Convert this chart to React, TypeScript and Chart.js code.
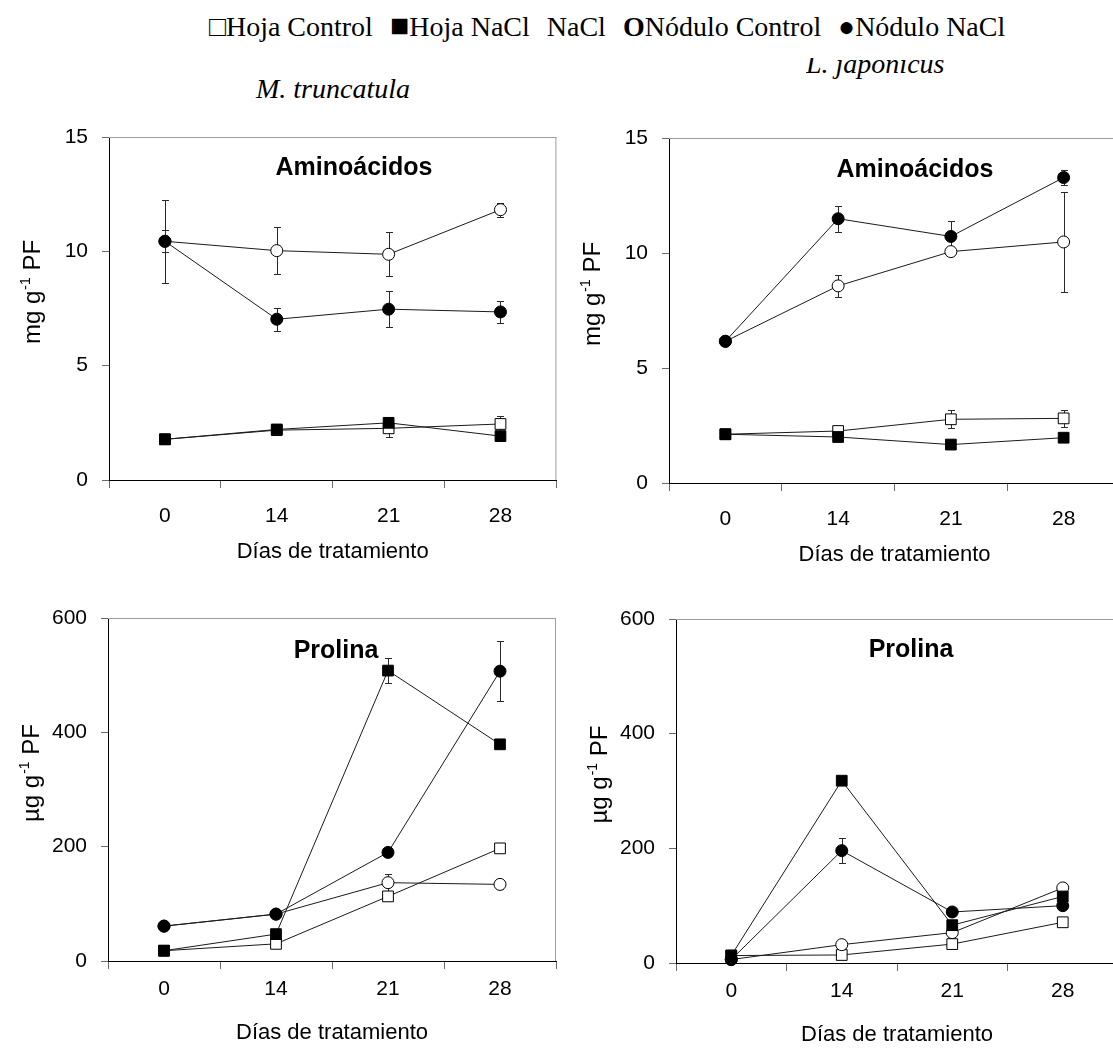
import React, { useEffect, useRef } from 'react';
import { Chart, registerables } from 'chart.js';

Chart.register(...registerables);

const SANS = '"Liberation Sans", Arial, Helvetica, sans-serif';
const SERIF = '"Liberation Serif", "Times New Roman", serif';

// Días de tratamiento
const dias = ['0', '14', '21', '28'];

// M. truncatula — aminoácidos (mg g-1 PF)
const mtAaHojaControl = [1.78, 2.18, 2.26, 2.45];
const mtAaHojaControlErr = [0, 0, 0.4, 0.34];
const mtAaHojaNaCl = [1.78, 2.21, 2.5, 1.92];
const mtAaHojaNaClErr = [0, 0, 0, 0];
const mtAaNodControl = [10.44, 10.03, 9.87, 11.82];
const mtAaNodControlErr = [1.82, 1.03, 0.97, 0.31];
const mtAaNodNaCl = [10.44, 7.03, 7.47, 7.35];
const mtAaNodNaClErr = [0.48, 0.5, 0.78, 0.48];

// L. japonicus — aminoácidos (mg g-1 PF)
const ljAaHojaControl = [2.12, 2.26, 2.77, 2.81];
const ljAaHojaControlErr = [0, 0, 0.4, 0.36];
const ljAaHojaNaCl = [2.12, 2.0, 1.67, 1.97];
const ljAaHojaNaClErr = [0, 0, 0, 0];
const ljAaNodControl = [6.16, 8.57, 10.06, 10.48];
const ljAaNodControlErr = [0, 0.47, 0, 2.17];
const ljAaNodNaCl = [6.16, 11.49, 10.72, 13.28];
const ljAaNodNaClErr = [0, 0.56, 0.65, 0.31];

// M. truncatula — prolina (µg g-1 PF)
const mtProHojaControl = [18, 30, 113, 197];
const mtProHojaControlErr = [0, 0, 0, 0];
const mtProHojaNaCl = [18, 47, 508, 379];
const mtProHojaNaClErr = [0, 0, 22, 0];
const mtProNodControl = [61, 82, 137, 134];
const mtProNodControlErr = [0, 0, 16, 8];
const mtProNodNaCl = [61, 82, 190, 507];
const mtProNodNaClErr = [0, 0, 0, 52];

// L. japonicus — prolina (µg g-1 PF)
const ljProHojaControl = [13, 14, 33, 71];
const ljProHojaControlErr = [0, 0, 0, 0];
const ljProHojaNaCl = [13, 318, 66, 116];
const ljProHojaNaClErr = [0, 0, 0, 0];
const ljProNodControl = [6, 32, 53, 131];
const ljProNodControlErr = [0, 0, 0, 8];
const ljProNodNaCl = [6, 196, 89, 100];
const ljProNodNaClErr = [0, 22, 0, 0];

const aaTicks = { max: 15, step: 5 };
const proTicks = { max: 600, step: 200 };

type Box = { x: number; y: number; w: number; h: number };
type Area = { l: number; t: number; r: number; b: number };

type PanelDef = {
  box: Box;
  area: Area;
  scale: { max: number; step: number };
  label: string;
  labelX: number;
  labelY: number;
  unit: string;
  frameRight: boolean;
  tickPad: number;
  sets: number[][];
};

const LINE = '#1a1a1a';

function buildDatasets(sets: number[][]) {
  const [hc, hcE, hn, hnE, nc, ncE, nn, nnE] = sets;
  const base = {
    borderColor: LINE,
    borderWidth: 1,
    pointBorderColor: '#000',
    pointBorderWidth: 1,
    clip: false as const,
  };
  // the NaCl series come first so that they sit on top of the controls
  return [
    { ...base, label: 'Nódulo NaCl', data: nn, errors: nnE, pointStyle: 'circle', pointRadius: 6, pointBackgroundColor: '#000' },
    { ...base, label: 'Hoja NaCl', data: hn, errors: hnE, pointStyle: 'rect', pointRadius: 7.6, pointBackgroundColor: '#000' },
    { ...base, label: 'Nódulo Control', data: nc, errors: ncE, pointStyle: 'circle', pointRadius: 6, pointBackgroundColor: '#fff' },
    { ...base, label: 'Hoja Control', data: hc, errors: hcE, pointStyle: 'rect', pointRadius: 7.6, pointBackgroundColor: '#fff' },
  ];
}

const panelDecor = {
  id: 'panelDecor',
  beforeDatasetsDraw(chart: any) {
    const ctx = chart.ctx as CanvasRenderingContext2D;
    const ys = chart.scales.y;
    ctx.save();
    ctx.strokeStyle = '#2a2a2a';
    ctx.lineWidth = 1;
    chart.data.datasets.forEach((ds: any, i: number) => {
      const meta = chart.getDatasetMeta(i);
      meta.data.forEach((pt: any, j: number) => {
        const e = ds.errors ? ds.errors[j] : 0;
        if (!e) return;
        const v = ds.data[j];
        const x = Math.round(pt.x) + 0.5;
        const yt = Math.round(ys.getPixelForValue(v + e)) + 0.5;
        const yb = Math.round(ys.getPixelForValue(v - e)) + 0.5;
        ctx.beginPath();
        ctx.moveTo(x, yt);
        ctx.lineTo(x, yb);
        ctx.moveTo(x - 3.5, yt);
        ctx.lineTo(x + 3.5, yt);
        ctx.moveTo(x - 3.5, yb);
        ctx.lineTo(x + 3.5, yb);
        ctx.stroke();
      });
    });
    ctx.restore();
  },
  afterDraw(chart: any, _args: any, opts: any) {
    const ctx = chart.ctx as CanvasRenderingContext2D;
    const a = chart.chartArea;
    ctx.save();
    // upper (and right) frame in grey
    ctx.strokeStyle = '#9c9c9c';
    ctx.lineWidth = 1;
    ctx.beginPath();
    ctx.moveTo(a.left, a.top + 0.5);
    ctx.lineTo(a.right, a.top + 0.5);
    if (opts.frameRight) {
      ctx.moveTo(a.right - 0.5, a.top);
      ctx.lineTo(a.right - 0.5, a.bottom);
    }
    ctx.stroke();

    // panel label
    ctx.fillStyle = '#000';
    ctx.font = `bold 25px ${SANS}`;
    ctx.textAlign = 'center';
    ctx.textBaseline = 'alphabetic';
    ctx.fillText(opts.label, a.left + opts.labelX, a.top + opts.labelY);

    // x title
    ctx.font = `22px ${SANS}`;
    ctx.fillText('Días de tratamiento', (a.left + a.right) / 2, a.bottom + 78);

    // y title with superscript
    const big = `24px ${SANS}`;
    const small = `14px ${SANS}`;
    const p1 = `${opts.unit} g`;
    const p2 = '-1';
    const p3 = ' PF';
    ctx.font = big;
    const w1 = ctx.measureText(p1).width;
    const w3 = ctx.measureText(p3).width;
    ctx.font = small;
    const w2 = ctx.measureText(p2).width;
    const total = w1 + w2 + w3;
    ctx.translate(a.left - 69, (a.top + a.bottom) / 2 - 16);
    ctx.rotate(-Math.PI / 2);
    ctx.textAlign = 'left';
    let x = -total / 2;
    ctx.font = big;
    ctx.fillText(p1, x, 0);
    x += w1;
    ctx.font = small;
    ctx.fillText(p2, x + 1, -10);
    x += w2 + 1;
    ctx.font = big;
    ctx.fillText(p3, x, 0);
    ctx.restore();
  },
};

const panels: PanelDef[] = [
  {
    box: { x: 0, y: 105, w: 565, h: 465 },
    area: { l: 109, t: 137, r: 557, b: 480 },
    scale: aaTicks,
    label: 'Aminoácidos',
    labelX: 245,
    labelY: 38,
    unit: 'mg',
    frameRight: true,
    tickPad: 16,
    sets: [mtAaHojaControl, mtAaHojaControlErr, mtAaHojaNaCl, mtAaHojaNaClErr, mtAaNodControl, mtAaNodControlErr, mtAaNodNaCl, mtAaNodNaClErr],
  },
  {
    box: { x: 565, y: 105, w: 570, h: 465 },
    area: { l: 669, t: 138, r: 1120, b: 483 },
    scale: aaTicks,
    label: 'Aminoácidos',
    labelX: 246,
    labelY: 39,
    unit: 'mg',
    frameRight: false,
    tickPad: 16,
    sets: [ljAaHojaControl, ljAaHojaControlErr, ljAaHojaNaCl, ljAaHojaNaClErr, ljAaNodControl, ljAaNodControlErr, ljAaNodNaCl, ljAaNodNaClErr],
  },
  {
    box: { x: 0, y: 575, w: 565, h: 473 },
    area: { l: 108, t: 618, r: 556, b: 961 },
    scale: proTicks,
    label: 'Prolina',
    labelX: 228,
    labelY: 40,
    unit: 'µg',
    frameRight: true,
    tickPad: 8,
    sets: [mtProHojaControl, mtProHojaControlErr, mtProHojaNaCl, mtProHojaNaClErr, mtProNodControl, mtProNodControlErr, mtProNodNaCl, mtProNodNaClErr],
  },
  {
    box: { x: 565, y: 575, w: 570, h: 473 },
    area: { l: 676, t: 619, r: 1118, b: 963 },
    scale: proTicks,
    label: 'Prolina',
    labelX: 235,
    labelY: 38,
    unit: 'µg',
    frameRight: false,
    tickPad: 8,
    sets: [ljProHojaControl, ljProHojaControlErr, ljProHojaNaCl, ljProHojaNaClErr, ljProNodControl, ljProNodControlErr, ljProNodNaCl, ljProNodNaClErr],
  },
];

function Panel({ def }: { def: PanelDef }) {
  const ref = useRef<HTMLCanvasElement | null>(null);
  useEffect(() => {
    if (!ref.current) return;
    const { box, area } = def;
    const yWidth = area.l - box.x;
    const xHeight = box.y + box.h - area.b;
    const chart = new Chart(ref.current, {
      type: 'line',
      data: { labels: dias, datasets: buildDatasets(def.sets) as any },
      plugins: [panelDecor as any],
      options: {
        responsive: false,
        animation: false,
        devicePixelRatio: 1,
        layout: {
          padding: { left: 0, top: area.t - box.y, right: box.x + box.w - area.r, bottom: 0 },
        },
        plugins: {
          legend: { display: false },
          tooltip: { enabled: false },
          panelDecor: { label: def.label, labelX: def.labelX, labelY: def.labelY, unit: def.unit, frameRight: def.frameRight },
        } as any,
        scales: {
          x: {
            type: 'category',
            offset: true,
            grid: { display: true, offset: true, drawOnChartArea: false, drawTicks: true, tickLength: 8, color: '#6a6a6a' },
            border: { display: true, color: '#000', width: 1 },
            ticks: { color: '#000', font: { family: SANS, size: 21 }, padding: def.tickPad, maxRotation: 0 },
            afterFit: (s: any) => { s.height = xHeight; },
          },
          y: {
            min: 0,
            max: def.scale.max,
            grid: { display: true, drawOnChartArea: false, drawTicks: true, tickLength: 7, color: '#6a6a6a' },
            border: { display: true, color: '#000', width: 1 },
            ticks: { stepSize: def.scale.step, color: '#000', font: { family: SANS, size: 21 }, padding: 14 },
            afterFit: (s: any) => { s.width = yWidth; },
          },
        },
      },
    });
    return () => chart.destroy();
  }, [def]);
  return (
    <canvas
      ref={ref}
      width={def.box.w}
      height={def.box.h}
      style={{ position: 'absolute', left: def.box.x, top: def.box.y, width: def.box.w, height: def.box.h }}
    />
  );
}

const gap = { display: 'inline-block', width: 17 };

export default function App() {
  return (
    <div
      style={{
        position: 'absolute',
        left: 0,
        top: 0,
        width: 1113,
        height: 1048,
        overflow: 'hidden',
        background: '#fff',
      }}
    >
      {panels.map((p, i) => (
        <Panel key={i} def={p} />
      ))}
      <div
        style={{
          position: 'absolute',
          left: 806,
          top: 58,
          width: 200,
          height: 30,
          overflow: 'hidden',
        }}
      >
        <div
          style={{
            position: 'absolute',
            left: 0,
            top: -8,
            font: `italic 28px/28px ${SERIF}`,
            whiteSpace: 'nowrap',
            color: '#000',
          }}
        >
          L. japonicus
        </div>
      </div>
      <div
        style={{
          position: 'absolute',
          left: 256,
          top: 75,
          font: `italic 28px/28px ${SERIF}`,
          whiteSpace: 'nowrap',
          color: '#000',
        }}
      >
        M. truncatula
      </div>
      <div
        style={{
          position: 'absolute',
          left: 209,
          top: 11,
          font: `28px/28px ${SERIF}`,
          whiteSpace: 'pre',
          color: '#000',
        }}
      >
        {'□Hoja Control'}
        <span style={gap} />
        <span style={{ fontSize: 32, lineHeight: '28px' }}>■</span>
        {'Hoja NaCl'}
        <span style={gap} />
        {'NaCl'}
        <span style={gap} />
        <b>O</b>
        {'Nódulo Control'}
        <span style={gap} />
        {'●Nódulo NaCl'}
      </div>
    </div>
  );
}
